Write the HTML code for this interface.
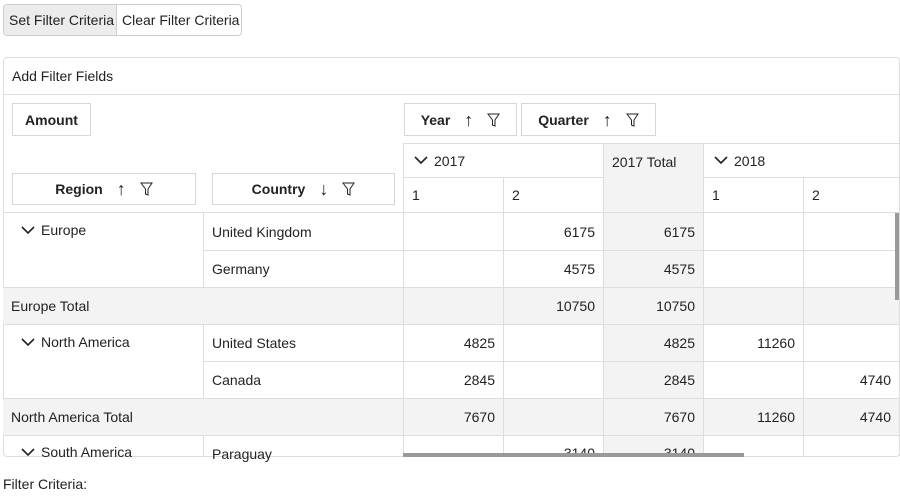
<!DOCTYPE html>
<html><head><style>
*{box-sizing:border-box;margin:0;padding:0}
body{width:900px;height:500px;background:#fff;font-family:"Liberation Sans",sans-serif;font-size:14px;color:#222;position:relative;overflow:hidden}
.a{position:absolute}
.box{position:absolute;border:1px solid #d6d6d6;background:#fff;font-weight:bold;display:flex;align-items:center;justify-content:center;gap:14px}
.box span{font-weight:normal;font-size:18px;line-height:1}
.c{position:absolute;border-right:1px solid #ddd;border-bottom:1px solid #ddd;display:flex;align-items:center;padding:0 8px}
.r{justify-content:flex-end}
.g{background:#f3f3f4}
.fil{display:inline-block;width:13px;height:14px}
.ch{display:inline-block;width:14px;height:9px;margin:0 6px 0 2px}
</style></head><body>
<div class="a" style="left:3px;top:4px;width:239px;height:32px;border:1px solid #ccc;border-radius:4px;overflow:hidden">
 <div class="a" style="left:0;top:0;width:113px;height:30px;background:#ececec;border-right:1px solid #ccc;padding:7px 0 0 5px">Set Filter Criteria</div>
 <div class="a" style="left:118px;top:0;height:30px;padding:7px 0 0 0">Clear Filter Criteria</div>
</div>
<div class="a" style="left:3px;top:57px;width:897px;height:400px;border:1px solid #ddd;border-radius:4px;overflow:hidden">
 <div class="a" style="left:8px;top:10px">Add Filter Fields</div>
 <div class="a" style="left:0;top:36px;width:897px;border-top:1px solid #ddd"></div>
</div>
<div class="box" style="left:12px;top:103px;width:79px;height:33px">Amount</div>
<div class="box" style="left:404px;top:103px;width:113px;height:33px">Year <span>↑</span><svg class="fil" viewBox="0 0 13 14"><path d="M1 1h11L8 7v6L5.5 12V7z" fill="none" stroke="#222"/></svg></div>
<div class="box" style="left:521px;top:103px;width:135px;height:33px">Quarter <span>↑</span><svg class="fil" viewBox="0 0 13 14"><path d="M1 1h11L8 7v6L5.5 12V7z" fill="none" stroke="#222"/></svg></div>
<div class="box" style="left:12px;top:173px;width:184px;height:32px">Region <span>↑</span><svg class="fil" viewBox="0 0 13 14"><path d="M1 1h11L8 7v6L5.5 12V7z" fill="none" stroke="#222"/></svg></div>
<div class="box" style="left:212px;top:173px;width:183px;height:32px">Country <span>↓</span><svg class="fil" viewBox="0 0 13 14"><path d="M1 1h11L8 7v6L5.5 12V7z" fill="none" stroke="#222"/></svg></div>
<!-- column header -->
<div class="a" style="left:403px;top:143px;width:497px;border-top:1px solid #ddd"></div>
<div class="a" style="left:403px;top:143px;height:313px;border-left:1px solid #ddd"></div>
<div class="c" style="left:404px;top:144px;width:200px;height:34px"><svg class="ch" viewBox="0 0 14 9"><path d="M1 1l6 6 6-6" fill="none" stroke="#222" stroke-width="1.6"/></svg>2017</div>
<div class="c g" style="left:604px;top:144px;width:100px;height:69px;align-items:flex-start;padding-top:10px">2017 Total</div>
<div class="c" style="left:704px;top:144px;width:196px;height:34px"><svg class="ch" viewBox="0 0 14 9"><path d="M1 1l6 6 6-6" fill="none" stroke="#222" stroke-width="1.6"/></svg>2018</div>
<div class="c" style="left:404px;top:178px;width:100px;height:35px">1</div>
<div class="c" style="left:504px;top:178px;width:100px;height:35px">2</div>
<div class="c" style="left:704px;top:178px;width:100px;height:35px">1</div>
<div class="c" style="left:804px;top:178px;width:96px;height:35px">2</div>
<div class="a" style="left:3px;top:212px;width:400px;border-top:1px solid #ddd"></div>
<!-- body -->
<div class="c" style="left:3px;top:213px;width:201px;height:75px;align-items:flex-start;padding-top:9px"><svg class="ch" viewBox="0 0 14 9" style="margin-top:4px;margin-left:10px"><path d="M1 1l6 6 6-6" fill="none" stroke="#222" stroke-width="1.6"/></svg>Europe</div>
<div class="c" style="left:204px;top:213px;width:200px;height:38px">United Kingdom</div>
<div class="c" style="left:204px;top:251px;width:200px;height:37px">Germany</div>
<div class="c g" style="left:3px;top:288px;width:401px;height:37px">Europe Total</div>
<div class="c" style="left:3px;top:325px;width:201px;height:74px;align-items:flex-start;padding-top:9px"><svg class="ch" viewBox="0 0 14 9" style="margin-top:4px;margin-left:10px"><path d="M1 1l6 6 6-6" fill="none" stroke="#222" stroke-width="1.6"/></svg>North America</div>
<div class="c" style="left:204px;top:325px;width:200px;height:37px">United States</div>
<div class="c" style="left:204px;top:362px;width:200px;height:37px">Canada</div>
<div class="c g" style="left:3px;top:399px;width:401px;height:37px">North America Total</div>
<div class="c" style="left:3px;top:436px;width:201px;height:20px;align-items:flex-start;padding-top:8px;border-bottom:0"><svg class="ch" viewBox="0 0 14 9" style="margin-top:4px;margin-left:10px"><path d="M1 1l6 6 6-6" fill="none" stroke="#222" stroke-width="1.6"/></svg>South America</div>
<div class="c" style="left:204px;top:436px;width:200px;height:20px;align-items:flex-start;padding-top:10px;border-bottom:0">Paraguay</div>
<!-- data rows -->
<div class="a" style="left:404px;top:213px;width:496px;height:243px;overflow:hidden">
 <div id="d"></div>
</div>
<script>
var rows=[["","6175","6175","",""],["","4575","4575","",""],["","10750","10750","",""],["4825","","4825","11260",""],["2845","","2845","","4740"],["7670","","7670","11260","4740"],["","3140","3140","",""]];
var h="";var tot=[2,5];var tops=[0,38,75,112,149,186,223];var hs=[38,37,37,37,37,37,37];
rows.forEach(function(r,i){r.forEach(function(v,j){var g=(tot.indexOf(i)>=0||j==2)?" g":"";var w=j==4?96:100;
h+='<div class="c r'+g+'" style="left:'+(j*100)+'px;top:'+tops[i]+'px;width:'+w+'px;height:'+hs[i]+'px;'+(i==6?'align-items:flex-start;padding-top:9px;':'')+'">'+v+'</div>';});});
document.getElementById("d").innerHTML=h;
</script>
<div class="a" style="left:895px;top:213px;width:4px;height:87px;background:#999"></div>
<div class="a" style="left:403px;top:453px;width:341px;height:4px;background:#999"></div>
<div class="a" style="left:3px;top:476px">Filter Criteria:</div>
</body></html>
